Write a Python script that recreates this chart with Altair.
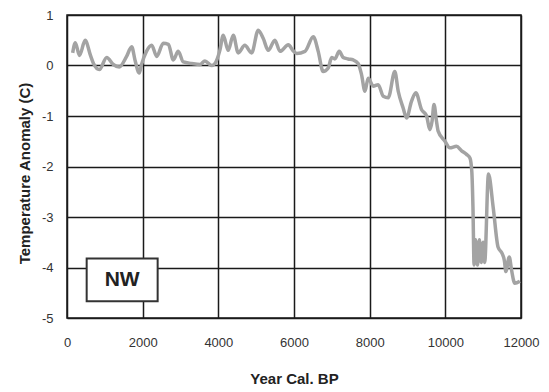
import altair as alt
import pandas as pd

years = [150, 220, 330, 480, 620, 700, 855, 1050, 1225, 1380, 1575, 1710, 1800, 1910, 1970,
         2100, 2240, 2370, 2545, 2680, 2810, 2940, 3075, 3295, 3515, 3645, 3825, 3910,
         4040, 4130, 4260, 4395, 4525, 4700, 4880, 5055, 5185, 5320, 5495, 5630, 5850, 5980,
         6070, 6290, 6510, 6640, 6770, 6905, 6995, 7080, 7195, 7300, 7430, 7565, 7695, 7785,
         7875, 7960, 8095, 8225, 8360, 8490, 8665, 8755, 8885, 8975, 9105, 9220, 9370, 9505,
         9590, 9650, 9700, 9765, 9810, 9990, 10120, 10295, 10430, 10560, 10650, 10700, 10730,
         10760, 10800, 10850, 10900, 10950, 11000, 11040, 11140, 11265, 11395, 11500, 11560,
         11600, 11690, 11750, 11835, 11970]
temps = [0.25, 0.45, 0.2, 0.5, 0.2, 0.04, -0.08, 0.16, 0.02, -0.03, 0.18, 0.37, 0.1, -0.15, 0.02,
         0.28, 0.4, 0.18, 0.44, 0.42, 0.11, 0.28, 0.07, 0.04, 0.02, 0.09, 0.0, 0.04,
         0.3, 0.6, 0.3, 0.6, 0.25, 0.4, 0.25, 0.7, 0.54, 0.3, 0.5, 0.28, 0.41, 0.29,
         0.24, 0.28, 0.57, 0.28, -0.12, -0.05, 0.16, 0.13, 0.28, 0.16, 0.13, 0.11, 0.04, -0.18,
         -0.51, -0.25, -0.41, -0.38, -0.61, -0.64, -0.12, -0.51, -0.84, -1.04, -0.71, -0.54, -0.87, -1.0,
         -1.27, -1.1, -0.77, -1.1, -1.3, -1.5, -1.63, -1.6, -1.69, -1.76, -1.83, -2.1, -2.8,
         -3.95, -3.45, -3.95, -3.45, -3.9, -3.5, -3.9, -2.15, -2.81, -3.6, -3.72, -3.86,
         -4.08, -3.79, -4.05, -4.31, -4.27]

x_ticks = [0, 2000, 4000, 6000, 8000, 10000, 12000]
y_ticks = [-5, -4, -3, -2, -1, 0, 1]

label_text = ["NW"]
label_x0 = [520]
label_x1 = [2396]
label_y0 = [-3.82]
label_y1 = [-4.67]

df = pd.DataFrame({"year": years, "temp": temps})
box = pd.DataFrame({"x0": label_x0, "x1": label_x1, "y0": label_y0, "y1": label_y1,
                    "label": label_text,
                    "xc": [(a + b) / 2 for a, b in zip(label_x0, label_x1)],
                    "yc": [(a + b) / 2 for a, b in zip(label_y0, label_y1)]})

xscale = alt.Scale(domain=[0, 12000], nice=False)
yscale = alt.Scale(domain=[-5, 1], nice=False)

common = dict(grid=True, gridColor="#1a1a1a", gridWidth=1.5, gridOpacity=1,
              ticks=False, domain=False, labelFlush=False,
              labelFont="Liberation Sans", labelFontSize=13, labelColor="#333",
              labelExpr="toString(datum.value)",
              titleFont="Liberation Sans", titleFontSize=15, titleFontWeight="bold",
              titleColor="#222")

line = alt.Chart(df).mark_line(color="#a3a3a3", strokeWidth=3.5, interpolate="monotone").encode(
    x=alt.X("year:Q", scale=xscale,
            axis=alt.Axis(title="Year Cal. BP", values=x_ticks, labelPadding=18,
                          titlePadding=22, **common)),
    y=alt.Y("temp:Q", scale=yscale,
            axis=alt.Axis(title="Temperature Anomaly (C)", values=y_ticks, labelPadding=14,
                          titlePadding=9, titleY=158, **common)),
)

rect = alt.Chart(box).mark_rect(fill="white", stroke="#333", strokeWidth=2).encode(
    x="x0:Q", x2="x1", y="y0:Q", y2="y1"
)

text = alt.Chart(box).mark_text(font="Liberation Sans", fontSize=21, fontWeight="bold",
                                color="#222", baseline="middle", align="center").encode(
    x="xc:Q", y="yc:Q", text="label:N"
)

chart = alt.layer(line, rect, text).properties(
    width=454, height=303,
    autosize=alt.AutoSizeParams(type="none"),
    padding={"left": 59, "top": 7, "right": 20, "bottom": 68},
    background="white",
).configure_view(stroke="#1a1a1a", strokeWidth=1.5)

chart.save("out.html", embed_options={"renderer": "svg", "actions": False})
